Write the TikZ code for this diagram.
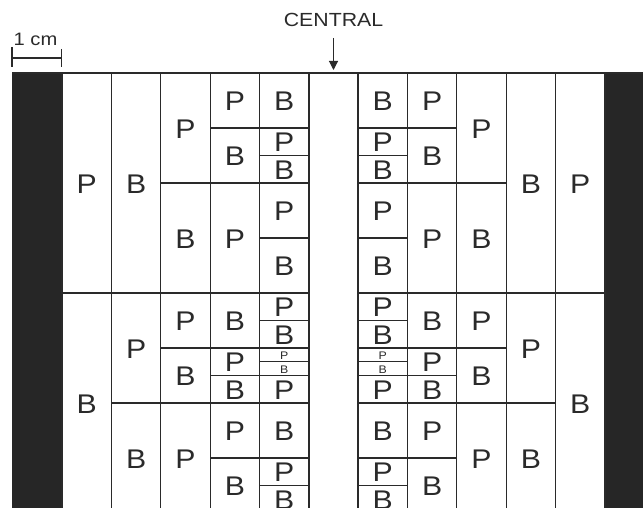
\documentclass[tikz,border=0pt]{standalone}
\usepackage{fontspec}
\setmainfont{Liberation Sans}[FakeStretch=1.12]
\usetikzlibrary{arrows.meta}
\definecolor{ink}{HTML}{2A2A2A}
\definecolor{barfill}{HTML}{262626}
\tikzset{
  cellbox/.style={draw=ink, line width=1.1pt},
  lblA/.style={font=\fontsize{27}{27}\selectfont, text=ink, inner sep=0pt},
  lblM/.style={font=\fontsize{27}{27}\selectfont, text=ink, inner sep=0pt},
  lblS/.style={font=\fontsize{11}{11}\selectfont, text=ink, inner sep=0pt},
  caption/.style={font=\fontsize{19}{19}\selectfont, text=ink, inner sep=0pt},
  blackbar/.style={fill=barfill},
  scalebar/.style={draw=ink, line width=1.1pt},
  pointer/.style={draw=ink, line width=1.1pt, -{Triangle[length=9pt,width=9pt]}}
}
\begin{document}
\begin{tikzpicture}[x=1pt,y=-1pt]
\useasboundingbox (0,0) rectangle (643,508);
\clip (0,0) rectangle (643,508);
% black side bars
\fill[blackbar] (12,73) rectangle (62,515);
\fill[blackbar] (605,73) rectangle (645,515);
% columns
\foreach \i in {1,...,5}{
  \ifcase\i\or
    \def\mylist{0/16/P/A,16/32/B/A}\or
    \def\mylist{0/16/B/A,16/24/P/A,24/32/B/A}\or
    \def\mylist{0/8/P/A,8/16/B/A,16/20/P/A,20/24/B/A,24/32/P/A}\or
    \def\mylist{0/4/P/A,4/8/B/A,8/16/P/A,16/20/B/A,20/22/P/M,22/24/B/M,24/28/P/A,28/32/B/A}\or
    \def\mylist{0/4/B/A,4/6/P/M,6/8/B/M,8/12/P/A,12/16/B/A,16/18/P/M,18/20/B/M,20/21/P/S,21/22/B/S,22/24/P/M,24/28/B/A,28/30/P/M,30/32/B/M}\fi
  \pgfmathsetmacro\xl{62+(\i-1)*49.4}
  \pgfmathsetmacro\xr{605-\i*49.4}
  \foreach \a/\b/\t/\f [count=\k] in \mylist {
    \draw[cellbox] (\xl,73+\a*13.75) rectangle (\xl+49.4,73+\b*13.75);
    \draw[cellbox] (\xr,73+\a*13.75) rectangle (\xr+49.4,73+\b*13.75);
    \node[lbl\f] (L\i-\k) at (\xl+24.7,73.8+\a*6.875+\b*6.875) {\t};
    \node[lbl\f] (R\i-\k) at (\xr+24.7,73.8+\a*6.875+\b*6.875) {\t};
  }
}
% top edge
\draw[cellbox] (12,73) -- (643,73);
% central marker
\node[caption] (central) at (333.5,20) {CENTRAL};
\coordinate (ctop) at (333.5,70);
\draw[pointer, shorten <=11pt] (central.south) -- (ctop);
% scale bar
\node[caption, font=\fontsize{18}{18}\selectfont] (cm) at (35.5,39) {1 cm};
\coordinate (sbl) at (12,58);
\coordinate (sbr) at (61.5,58);
\draw[scalebar] (sbl) -- (sbr);
\draw[scalebar] (12,47) -- (12,67);
\draw[scalebar] (61.5,49) -- (61.5,67);
\end{tikzpicture}
\end{document}
